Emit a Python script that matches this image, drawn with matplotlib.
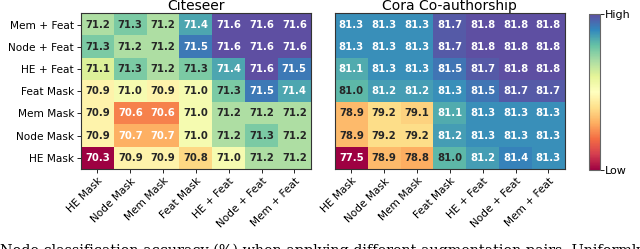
import matplotlib
matplotlib.use("Agg")
from matplotlib import pyplot as plt
import numpy as np

# rows top -> bottom, columns left -> right
row_labels = ["Mem + Feat", "Node + Feat", "HE + Feat", "Feat Mask", "Mem Mask", "Node Mask", "HE Mask"]
col_labels = ["HE Mask", "Node Mask", "Mem Mask", "Feat Mask", "HE + Feat", "Node + Feat", "Mem + Feat"]

citeseer = [
    [71.2, 71.3, 71.2, 71.4, 71.6, 71.6, 71.6],
    [71.3, 71.2, 71.2, 71.5, 71.6, 71.6, 71.6],
    [71.1, 71.3, 71.2, 71.3, 71.4, 71.6, 71.5],
    [70.9, 71.0, 70.9, 71.0, 71.3, 71.5, 71.4],
    [70.9, 70.6, 70.6, 71.0, 71.2, 71.2, 71.2],
    [70.9, 70.7, 70.7, 71.0, 71.2, 71.3, 71.2],
    [70.3, 70.9, 70.9, 70.8, 71.0, 71.2, 71.2],
]
cora = [
    [81.3, 81.3, 81.3, 81.7, 81.8, 81.8, 81.8],
    [81.3, 81.3, 81.3, 81.7, 81.8, 81.8, 81.8],
    [81.1, 81.3, 81.3, 81.5, 81.7, 81.8, 81.8],
    [81.0, 81.2, 81.2, 81.3, 81.5, 81.7, 81.7],
    [78.9, 79.2, 79.1, 81.1, 81.3, 81.3, 81.3],
    [78.9, 79.2, 79.2, 81.2, 81.3, 81.3, 81.3],
    [77.5, 78.9, 78.8, 81.0, 81.2, 81.4, 81.3],
]

fig = plt.figure(figsize=(6.4, 2.49), dpi=100)
cmap = plt.get_cmap("Spectral")


def draw(ax, data, title, lo_white, hi_white, show_y):
    data = np.array(data)
    im = ax.imshow(data, cmap=cmap, aspect="auto",
                   vmin=data.min(), vmax=data.max())
    for i in range(data.shape[0]):
        for j in range(data.shape[1]):
            v = data[i, j]
            c = "white" if (v < lo_white or v > hi_white) else "#262626"
            ax.text(j, i, "{:.1f}".format(v), ha="center", va="center",
                    color=c, fontsize=7.3, fontweight="bold")
    ax.set_xticks(range(len(col_labels)))
    ax.set_xticklabels(col_labels, rotation=45, ha="right",
                       rotation_mode="anchor", fontsize=7.6)
    ax.set_yticks(range(len(row_labels)))
    if show_y:
        ax.set_yticklabels(row_labels, fontsize=7.6)
    else:
        ax.set_yticklabels([])
    ax.tick_params(length=3, width=0.6, pad=2)
    for s in ax.spines.values():
        s.set_color("#333333")
        s.set_linewidth(0.8)
    ax.set_title(title, fontsize=10, pad=2)
    return im


ax1 = fig.add_axes([0.1266, 0.3213, 0.359, 0.6245])
draw(ax1, citeseer, "Citeseer", 70.75, 71.35, True)
ax2 = fig.add_axes([0.5234, 0.3213, 0.359, 0.6245])
im = draw(ax2, cora, "Cora Co-authorship", 78.0, 81.05, False)
ax2.tick_params(axis="y", left=False)

cax = fig.add_axes([0.920, 0.317, 0.0172, 0.6265])
cb = fig.colorbar(im, cax=cax)
cb.set_ticks([np.min(cora), np.max(cora)])
cb.set_ticklabels(["Low", "High"], fontsize=8)
cb.ax.tick_params(length=3, width=0.6, pad=1)
cb.outline.set_edgecolor("#666666")
cb.outline.set_linewidth(0.8)

fig.text(0.0, -0.026,
         "Node classification accuracy (%) when applying different augmentation pairs. Uniformly",
         family="DejaVu Serif", fontsize=10.4, ha="left", va="baseline")

plt.savefig("out.png", dpi=100)
